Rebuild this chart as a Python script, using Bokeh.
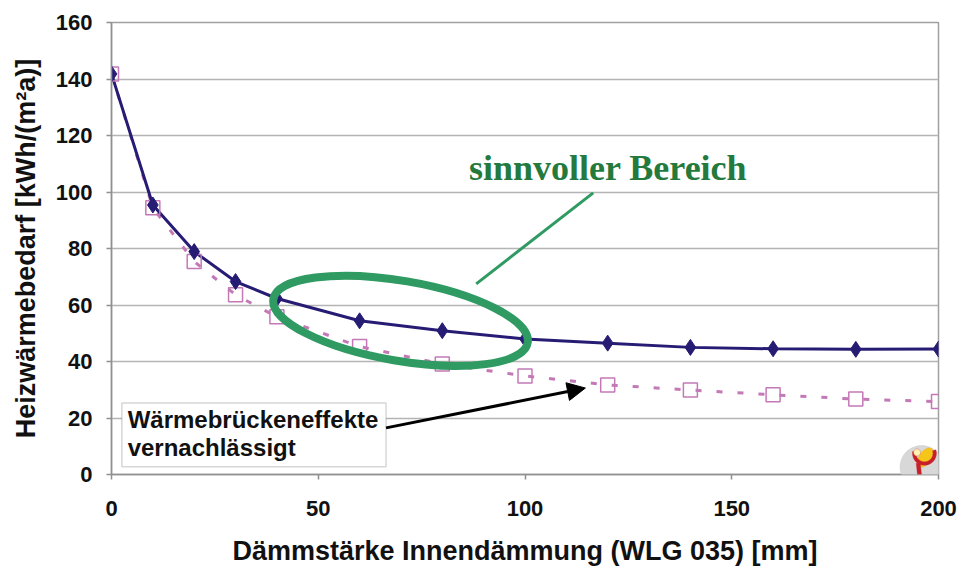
import numpy as np
from bokeh.plotting import figure
from bokeh.models import (Range1d, Label, BoxAnnotation, Arrow, NormalHead,
                          FixedTicker, PolyAnnotation)
from bokeh.embed import file_html
from bokeh.resources import INLINE

# ---- data ----
thickness_mm = [0, 10, 20, 30, 40, 60, 80, 100, 120, 140, 160, 180, 200]
with_bridges = [141.8, 95.4, 78.9, 68.3, 62.3, 54.4, 50.9, 48.0, 46.5, 45.0, 44.5, 44.3, 44.4]
without_bridges = [141.8, 94.4, 75.4, 63.6, 55.8, 45.3, 39.1, 34.9, 31.7, 29.9, 28.2, 26.7, 25.8]
x_ticks = [0, 50, 100, 150, 200]
y_ticks = [0, 20, 40, 60, 80, 100, 120, 140, 160]

x_label = "Dämmstärke Innendämmung (WLG 035) [mm]"
y_label = "Heizwärmebedarf [kWh/(m²a)]"
note_green = "sinnvoller Bereich"
note_box = ["Wärmebrückeneffekte", "vernachlässigt"]

NAVY = "#261c74"
PINK = "#c479b6"
GREEN = "#2f9a62"
GREEN_TXT = "#237a3c"
GRID = "#b4b4b4"
FONT = "Liberation Sans"

p = figure(width=964, height=568,
           x_range=Range1d(0, 200), y_range=Range1d(0, 160),
           output_backend="svg", toolbar_location=None,
           min_border_left=111, min_border_right=26,
           min_border_top=22, min_border_bottom=94)

p.background_fill_color = "white"
p.border_fill_color = "white"
p.outline_line_color = "#a0a0a0"
p.outline_line_width = 1.5

p.xgrid.visible = False
p.ygrid.grid_line_color = GRID
p.ygrid.grid_line_width = 1.5

p.xaxis.ticker = FixedTicker(ticks=x_ticks)
p.yaxis.ticker = FixedTicker(ticks=y_ticks)
for ax in (p.xaxis, p.yaxis):
    ax.axis_line_color = "#909090"
    ax.axis_line_width = 1.5
    ax.major_tick_line_color = "#909090"
    ax.major_tick_line_width = 1.5
    ax.major_tick_out = 5
    ax.major_tick_in = 0
    ax.minor_tick_line_color = None
    ax.major_label_text_font = FONT
    ax.major_label_text_font_style = "bold"
    ax.major_label_text_font_size = "22px"
    ax.major_label_text_color = "#111111"
    ax.axis_label_text_font = FONT
    ax.axis_label_text_font_style = "bold"
    ax.axis_label_text_font_size = "27px"
    ax.axis_label_text_color = "#111111"

p.xaxis.axis_label = x_label
p.yaxis.axis_label = y_label
p.xaxis.major_label_standoff = 21
p.yaxis.major_label_standoff = 14
p.xaxis.axis_label_standoff = 17
p.yaxis.axis_label_standoff = 12

# series
p.line(thickness_mm, without_bridges, line_color=PINK, line_width=3, line_dash="6 15")
p.line(thickness_mm, with_bridges, line_color=NAVY, line_width=3)
p.scatter(thickness_mm, without_bridges, marker="square", size=14,
          fill_color=None, line_color=PINK, line_width=1.5)
p.scatter(thickness_mm, with_bridges, marker="diamond", size=16,
          fill_color=NAVY, line_color=NAVY)

# green ellipse (sensible range)
p.ellipse(x=[69.9], y=[54.4], width=258, height=80, width_units="screen",
          height_units="screen", angle=-0.17, fill_color=None,
          line_color=GREEN, line_width=8)

# connector from label to ellipse
p.add_layout(Arrow(end=None, x_start=116.5, y_start=99.7, x_end=88.2, y_end=67.5,
                   line_color=GREEN, line_width=3))
p.add_layout(Label(x=120.1, y=108.5, text=note_green, text_align="center",
                   text_baseline="middle", text_font="Liberation Serif",
                   text_font_style="bold", text_font_size="36px",
                   text_color=GREEN_TXT))

# annotation box with arrow
p.add_layout(BoxAnnotation(left=2.5, right=66.4, bottom=2.7, top=25.3,
                           fill_color="white", fill_alpha=1.0,
                           line_color="#7a7a7a", line_width=1.5))
p.add_layout(Label(x=3.9, y=19.3, text=note_box[0], text_align="left",
                   text_baseline="middle", text_font=FONT, text_font_style="bold",
                   text_font_size="24px", text_color="#111111"))
p.add_layout(Label(x=3.9, y=9.4, text=note_box[1], text_align="left",
                   text_baseline="middle", text_font=FONT, text_font_style="bold",
                   text_font_size="24px", text_color="#111111"))
p.add_layout(Arrow(end=NormalHead(size=18, fill_color="black", line_color="black"),
                   x_start=66.4, y_start=16.5, x_end=114.6, y_end=30.6,
                   line_color="black", line_width=3))

# small logo approximation (bottom right, decorative)
XS, YS = 4.135, 2.825  # px per data unit
cx, cy = 195.9, 2.65
t = np.linspace(0, 2 * np.pi, 48)
p.add_layout(PolyAnnotation(xs=list(cx + 21.5 * np.cos(t) / XS), ys=list(cy + 21.5 * np.sin(t) / YS),
                            fill_color="#d8d8d8", fill_alpha=1.0,
                            line_color="#bcbcbc", line_width=1))
a = -0.6
ex, ey = 6.0, 11.0
p.add_layout(PolyAnnotation(
    xs=list(196.8 + (ex * np.cos(t) * np.cos(a) - ey * np.sin(t) * np.sin(a)) / XS),
    ys=list(6.0 + (ex * np.cos(t) * np.sin(a) + ey * np.sin(t) * np.cos(a)) / YS),
    fill_color="#f5c518", fill_alpha=1.0, line_color="#f0a020", line_width=1))
s = np.linspace(-0.3, 3.3, 30)
r_out, r_in = 12.0, 8.5
arc_x = list(196.6 + r_out * np.cos(-s) / XS) + list(196.6 + r_in * np.cos(-s[::-1]) / XS)
arc_y = list(7.5 + r_out * np.sin(-s) / YS) + list(7.5 + r_in * np.sin(-s[::-1]) / YS)
p.add_layout(PolyAnnotation(xs=arc_x, ys=arc_y, fill_color="#c8202a", fill_alpha=1.0,
                            line_color="#c8202a", line_width=1))
p.add_layout(PolyAnnotation(xs=list(194.8 + 3.5 * np.cos(t) / XS), ys=list(7.8 + 3.5 * np.sin(t) / YS),
                            fill_color="#fff3b0", fill_alpha=1.0,
                            line_color="#c8202a", line_width=1))
p.add_layout(PolyAnnotation(xs=[194.6, 195.6, 195.9, 194.9], ys=[4.0, 4.0, 0.0, 0.0],
                            fill_color="#c8202a", fill_alpha=1.0,
                            line_color="#c8202a", line_width=1))

open("out.html", "w").write(file_html(p, INLINE))
